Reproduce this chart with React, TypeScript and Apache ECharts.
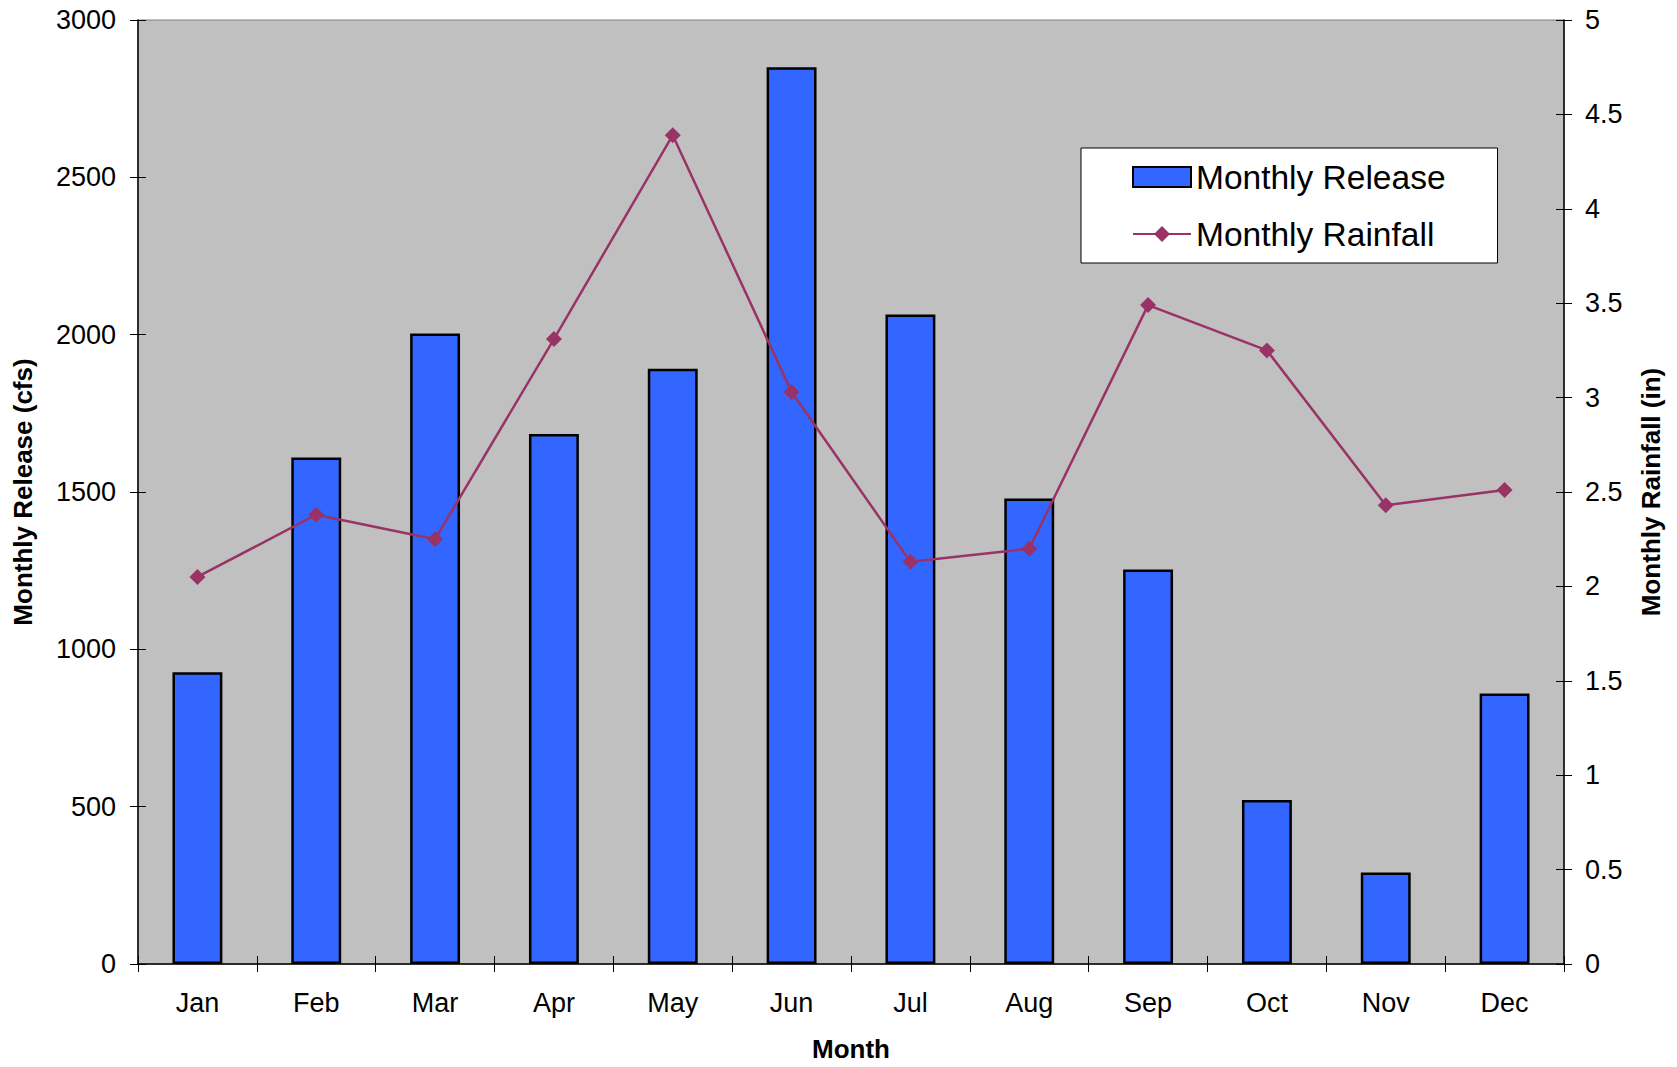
import React, { useEffect, useRef } from "react";
import * as echarts from "echarts";

// Monthly reservoir release (cfs) and rainfall (in)
const months = ["Jan", "Feb", "Mar", "Apr", "May", "Jun", "Jul", "Aug", "Sep", "Oct", "Nov", "Dec"];
const monthlyRelease = [927, 1610, 2004, 1684, 1892, 2850, 2064, 1479, 1254, 521, 291, 860];
const monthlyRainfall = [2.05, 2.38, 2.25, 3.31, 4.39, 3.03, 2.13, 2.2, 3.49, 3.25, 2.43, 2.51];

const FONT = "'Liberation Sans', Arial, Helvetica, sans-serif";

export default function App() {
  const ref = useRef<HTMLDivElement>(null);

  useEffect(() => {
    if (!ref.current) return;
    const chart = echarts.init(ref.current, undefined, { renderer: "svg" });

    const tickLabel = { color: "#000", fontSize: 27, fontFamily: FONT };
    const nameStyle = { color: "#000", fontSize: 26, fontWeight: "bold" as const, fontFamily: FONT };
    const plain = (v: number) => String(v);

    chart.setOption({
      animation: false,
      backgroundColor: "#ffffff",
      grid: {
        left: 138,
        right: 113,
        top: 20,
        bottom: 98,
        show: true,
        backgroundColor: "#C0C0C0",
        borderColor: "#808080",
        borderWidth: 1,
      },
      legend: {
        orient: "vertical",
        left: 1081,
        top: 148,
        backgroundColor: "#ffffff",
        borderColor: "#000",
        borderWidth: 1,
        padding: [12, 52, 12, 51],
        itemGap: 23,
        itemWidth: 58,
        itemHeight: 20,
        textStyle: { color: "#000", fontSize: 33.5, fontFamily: FONT },
        data: [
          { name: "Monthly Release", icon: "rect" },
          { name: "Monthly Rainfall" },
        ],
      },
      xAxis: [
        {
          type: "category",
          data: months,
          position: "bottom",
          boundaryGap: true,
          axisLine: { lineStyle: { color: "#000", width: 1.5 } },
          axisTick: { show: true, length: 8, lineStyle: { color: "#000" } },
          axisLabel: { ...tickLabel, margin: 25 },
          name: "Month",
          nameLocation: "middle",
          nameGap: 72,
          nameTextStyle: nameStyle,
        },
        {
          // inner half of the category ticks
          type: "category",
          data: months,
          position: "bottom",
          boundaryGap: true,
          axisLine: { show: false },
          axisTick: { show: true, inside: true, length: 8, lineStyle: { color: "#000" } },
          axisLabel: { show: false },
        },
      ],
      yAxis: [
        {
          type: "value",
          min: 0,
          max: 3000,
          interval: 500,
          position: "left",
          splitLine: { show: false },
          axisLine: { show: true, lineStyle: { color: "#000", width: 1.5 } },
          axisTick: { show: true, length: 8, lineStyle: { color: "#000" } },
          axisLabel: { ...tickLabel, margin: 22, formatter: plain },
          name: "Monthly Release (cfs)",
          nameLocation: "middle",
          nameRotate: 90,
          nameGap: 102,
          nameTextStyle: nameStyle,
        },
        {
          type: "value",
          min: 0,
          max: 5,
          interval: 0.5,
          position: "right",
          splitLine: { show: false },
          axisLine: { show: true, lineStyle: { color: "#000", width: 1.5 } },
          axisTick: { show: true, length: 8, lineStyle: { color: "#000" } },
          axisLabel: { ...tickLabel, margin: 21, formatter: plain },
          name: "Monthly Rainfall (in)",
          nameLocation: "middle",
          nameRotate: 90,
          nameGap: 74,
          nameTextStyle: nameStyle,
        },
        {
          // inner half of the left ticks
          type: "value",
          min: 0,
          max: 3000,
          interval: 500,
          position: "left",
          splitLine: { show: false },
          axisLine: { show: false },
          axisTick: { show: true, inside: true, length: 8, lineStyle: { color: "#000" } },
          axisLabel: { show: false },
        },
        {
          // inner half of the right ticks
          type: "value",
          min: 0,
          max: 5,
          interval: 0.5,
          position: "right",
          splitLine: { show: false },
          axisLine: { show: false },
          axisTick: { show: true, inside: true, length: 8, lineStyle: { color: "#000" } },
          axisLabel: { show: false },
        },
      ],
      series: [
        {
          name: "Monthly Release",
          type: "bar",
          xAxisIndex: 0,
          yAxisIndex: 0,
          data: monthlyRelease,
          barWidth: "42%",
          itemStyle: { color: "#3366FF", borderColor: "#000", borderWidth: 2.5 },
        },
        {
          name: "Monthly Rainfall",
          type: "line",
          xAxisIndex: 0,
          yAxisIndex: 1,
          data: monthlyRainfall,
          symbol: "diamond",
          symbolSize: 16,
          lineStyle: { color: "#993366", width: 2.5 },
          itemStyle: { color: "#993366" },
          z: 5,
        },
      ],
    });

    return () => chart.dispose();
  }, []);

  return (
    <div
      ref={ref}
      style={{ position: "fixed", left: 0, top: 0, width: 1677, height: 1067, background: "#fff" }}
    />
  );
}
